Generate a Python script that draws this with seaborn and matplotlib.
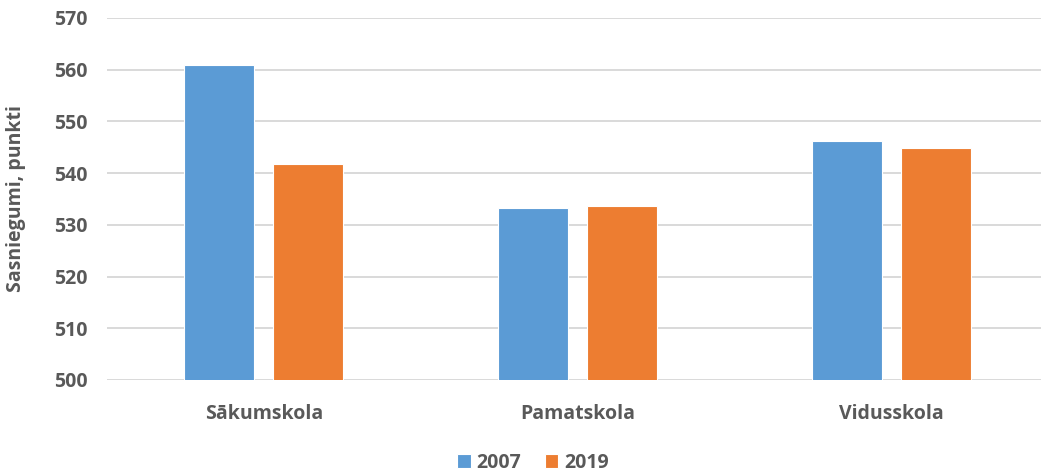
import matplotlib
matplotlib.use("Agg")
import matplotlib.pyplot as plt
import seaborn as sns
import pandas as pd

categories = ["Sākumskola", "Pamatskola", "Vidusskola"]
years = ["2007", "2019"]
values_2007 = [561.0, 533.2, 546.3]
values_2019 = [541.7, 533.6, 544.8]
yticks = [500, 510, 520, 530, 540, 550, 560, 570]

df = pd.DataFrame({
    "cat": categories * 2,
    "year": [years[0]] * 3 + [years[1]] * 3,
    "val": values_2007 + values_2019,
})

sns.set_theme(style="white")
plt.rcParams["font.family"] = ["Open Sans", "DejaVu Sans"]
text_color = "#595959"
fs = 14

fig = plt.figure(figsize=(10.41, 4.74), dpi=100)
W, H = 1041, 474
left, right = 107, 1048
top, bottom = 18, 380
ax = fig.add_axes([left / W, 1 - bottom / H, (right - left) / W, (bottom - top) / H])

palette = {"2007": "#5B9BD5", "2019": "#ED7D31"}
sns.barplot(data=df, x="cat", y="val", hue="year", order=categories,
            hue_order=years, palette=palette, width=0.568, gap=0.215,
            ax=ax, saturation=1, edgecolor="white", linewidth=0.8,
            legend=True, err_kws={"linewidth": 0})

ax.set_xlim(-0.5, 2.5)
ax.set_ylim(500, 570)
ax.set_yticks(yticks)
ax.set_yticklabels([str(t) for t in yticks], fontsize=fs, fontweight="bold", color=text_color)
ax.set_xticks(range(len(categories)))
ax.set_xticklabels(categories, fontsize=fs, fontweight="bold", color=text_color)
ax.tick_params(axis="x", length=0, pad=17)
ax.tick_params(axis="y", length=0, pad=14)
ax.set_xlabel("")
ax.set_ylabel("Sasniegumi, punkti", fontsize=fs, fontweight="bold", color=text_color)
ax.yaxis.set_label_coords(-(107 - 26) / (right - left), 0.5)

ax.grid(axis="y", color="#d9d9d9", linewidth=1.4)
ax.set_axisbelow(True)
for s in ax.spines.values():
    s.set_visible(False)

handles, labels = ax.get_legend_handles_labels()
ax.legend_.remove()
leg = fig.legend(handles, labels, loc="center", bbox_to_anchor=(533 / W, 1 - 463 / H),
                 ncol=2, frameon=False, fontsize=fs, handlelength=0.7, handleheight=0.7,
                 handletextpad=0.3, columnspacing=1.2)
for t in leg.get_texts():
    t.set_color(text_color)
    t.set_fontweight("bold")

fig.savefig("out.png", dpi=100)
